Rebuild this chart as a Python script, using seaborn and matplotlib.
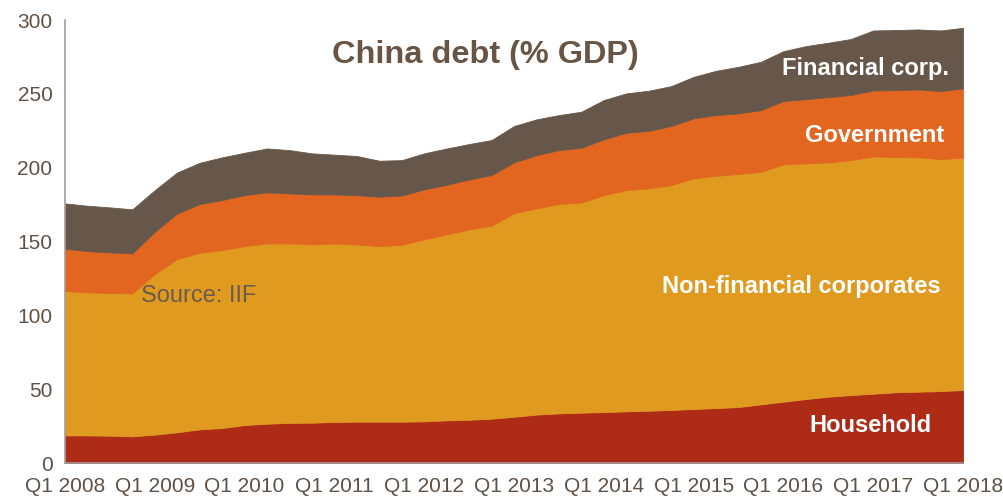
import numpy as np
import pandas as pd
import matplotlib
matplotlib.use("Agg")
import matplotlib.pyplot as plt
import seaborn as sns

# Quarterly, Q1 2008 .. Q1 2018
quarters = [f"Q{q} {y}" for y in range(2008, 2019) for q in range(1, 5)][:41]

household = [18.7, 18.7, 18.5, 18.1, 19.2, 20.8, 22.8, 23.7, 25.7, 26.6,
             27.2, 27.3, 27.8, 28.0, 28.0, 28.0, 28.2, 28.9, 29.3, 30.0,
             31.3, 32.8, 33.6, 34.1, 34.5, 35.0, 35.4, 35.9, 36.6, 37.2,
             37.9, 39.7, 41.5, 43.3, 44.9, 46.0, 46.9, 47.9, 48.3, 48.7,
             49.4]
nonfin_corp = [97.8, 96.9, 96.6, 96.8, 108.8, 117.3, 119.6, 120.5, 121.2, 122.1,
               121.5, 120.7, 120.9, 120.0, 118.9, 119.8, 123.2, 125.9, 128.9, 130.7,
               137.8, 139.6, 141.8, 142.2, 146.9, 149.8, 150.6, 152.3, 156.2, 157.3,
               157.8, 157.5, 160.7, 159.6, 158.7, 159.1, 160.7, 159.3, 158.7, 157.1,
               157.3]
government = [28.6, 27.9, 27.5, 27.1, 28.6, 30.9, 33.0, 33.9, 34.5, 34.6,
              33.9, 33.9, 33.2, 33.4, 33.4, 33.4, 33.9, 33.6, 33.8, 34.3,
              34.5, 36.1, 36.5, 37.2, 37.8, 38.8, 39.0, 40.0, 40.6, 41.1,
              41.1, 41.8, 42.9, 43.5, 44.2, 44.1, 44.7, 45.3, 46.0, 46.1,
              47.0]
financial_corp = [30.7, 30.7, 30.5, 29.8, 28.2, 27.8, 27.9, 28.9, 28.7, 29.7,
                  29.3, 27.8, 26.9, 26.5, 24.4, 23.9, 24.4, 24.6, 24.0, 23.7,
                  24.6, 24.2, 23.7, 24.4, 26.6, 26.7, 27.1, 27.0, 28.1, 30.0,
                  31.5, 32.7, 33.8, 35.9, 36.8, 37.9, 40.6, 40.7, 40.6, 41.0,
                  41.0]

series_names = ["Financial corp.", "Government", "Non-financial corporates", "Household"]
series_values = [financial_corp, government, nonfin_corp, household]
colors = {"Financial corp.": "#67574A", "Government": "#E2661F",
          "Non-financial corporates": "#E09A1F", "Household": "#AD2B17"}

rows = []
for name, vals in zip(series_names, series_values):
    for i, v in enumerate(vals):
        rows.append({"idx": i, "quarter": quarters[i], "sector": name, "value": v})
df = pd.DataFrame(rows)

sns.set_theme(style="white")
plt.rcParams["font.family"] = ["Liberation Sans", "DejaVu Sans"]

text_col = "#5E5146"
axis_col = "#A39D98"

fig = plt.figure(figsize=(10.04, 4.98), dpi=100)
ax = fig.add_axes([65/1004, 1 - 463/498, (963 - 65)/1004, (463 - 20)/498])

sns.histplot(data=df, x="idx", weights="value", hue="sector", hue_order=series_names,
             palette=colors, multiple="stack", element="poly", discrete=True,
             alpha=1, linewidth=0.6, edgecolor="face", legend=False, ax=ax)

ax.set_xlim(0, 40)
ax.set_ylim(0, 300)
ax.set_xlabel("")
ax.set_ylabel("")
ax.set_yticks(range(0, 301, 50))
ax.set_xticks(range(41))
ax.set_xticklabels([quarters[i] if i % 4 == 0 else "" for i in range(41)])
for lab in ax.get_xticklabels():
    lab.set_horizontalalignment("center")

ax.tick_params(axis="both", which="major", direction="out", length=5, width=1,
               color=axis_col, labelcolor=text_col, labelsize=15)
ax.tick_params(axis="x", pad=5)
ax.tick_params(axis="y", pad=4)
for s in ["top", "right"]:
    ax.spines[s].set_visible(False)
for s in ["left", "bottom"]:
    ax.spines[s].set_color(axis_col)
    ax.spines[s].set_linewidth(1.2)
ax.grid(False)

# Title and annotations
fig.text(485/1004, 1 - 55/498, "China debt (% GDP)", ha="center", va="center",
         fontsize=23.4, fontweight="bold", color="#685546")
ax.annotate("Source: IIF", xy=(141/1004, 1 - 296/498), xycoords="figure fraction",
            ha="left", va="center", fontsize=17, color="#6B5B4E")
labels = [("Financial corp.", 866, 68), ("Government", 875, 135),
          ("Non-financial corporates", 801, 286), ("Household", 870, 425)]
for txt, x, y in labels:
    fig.text(x/1004, 1 - y/498, txt, ha="center", va="center", fontsize=17,
             fontweight="bold", color="white")

fig.savefig("out.png", dpi=100)
